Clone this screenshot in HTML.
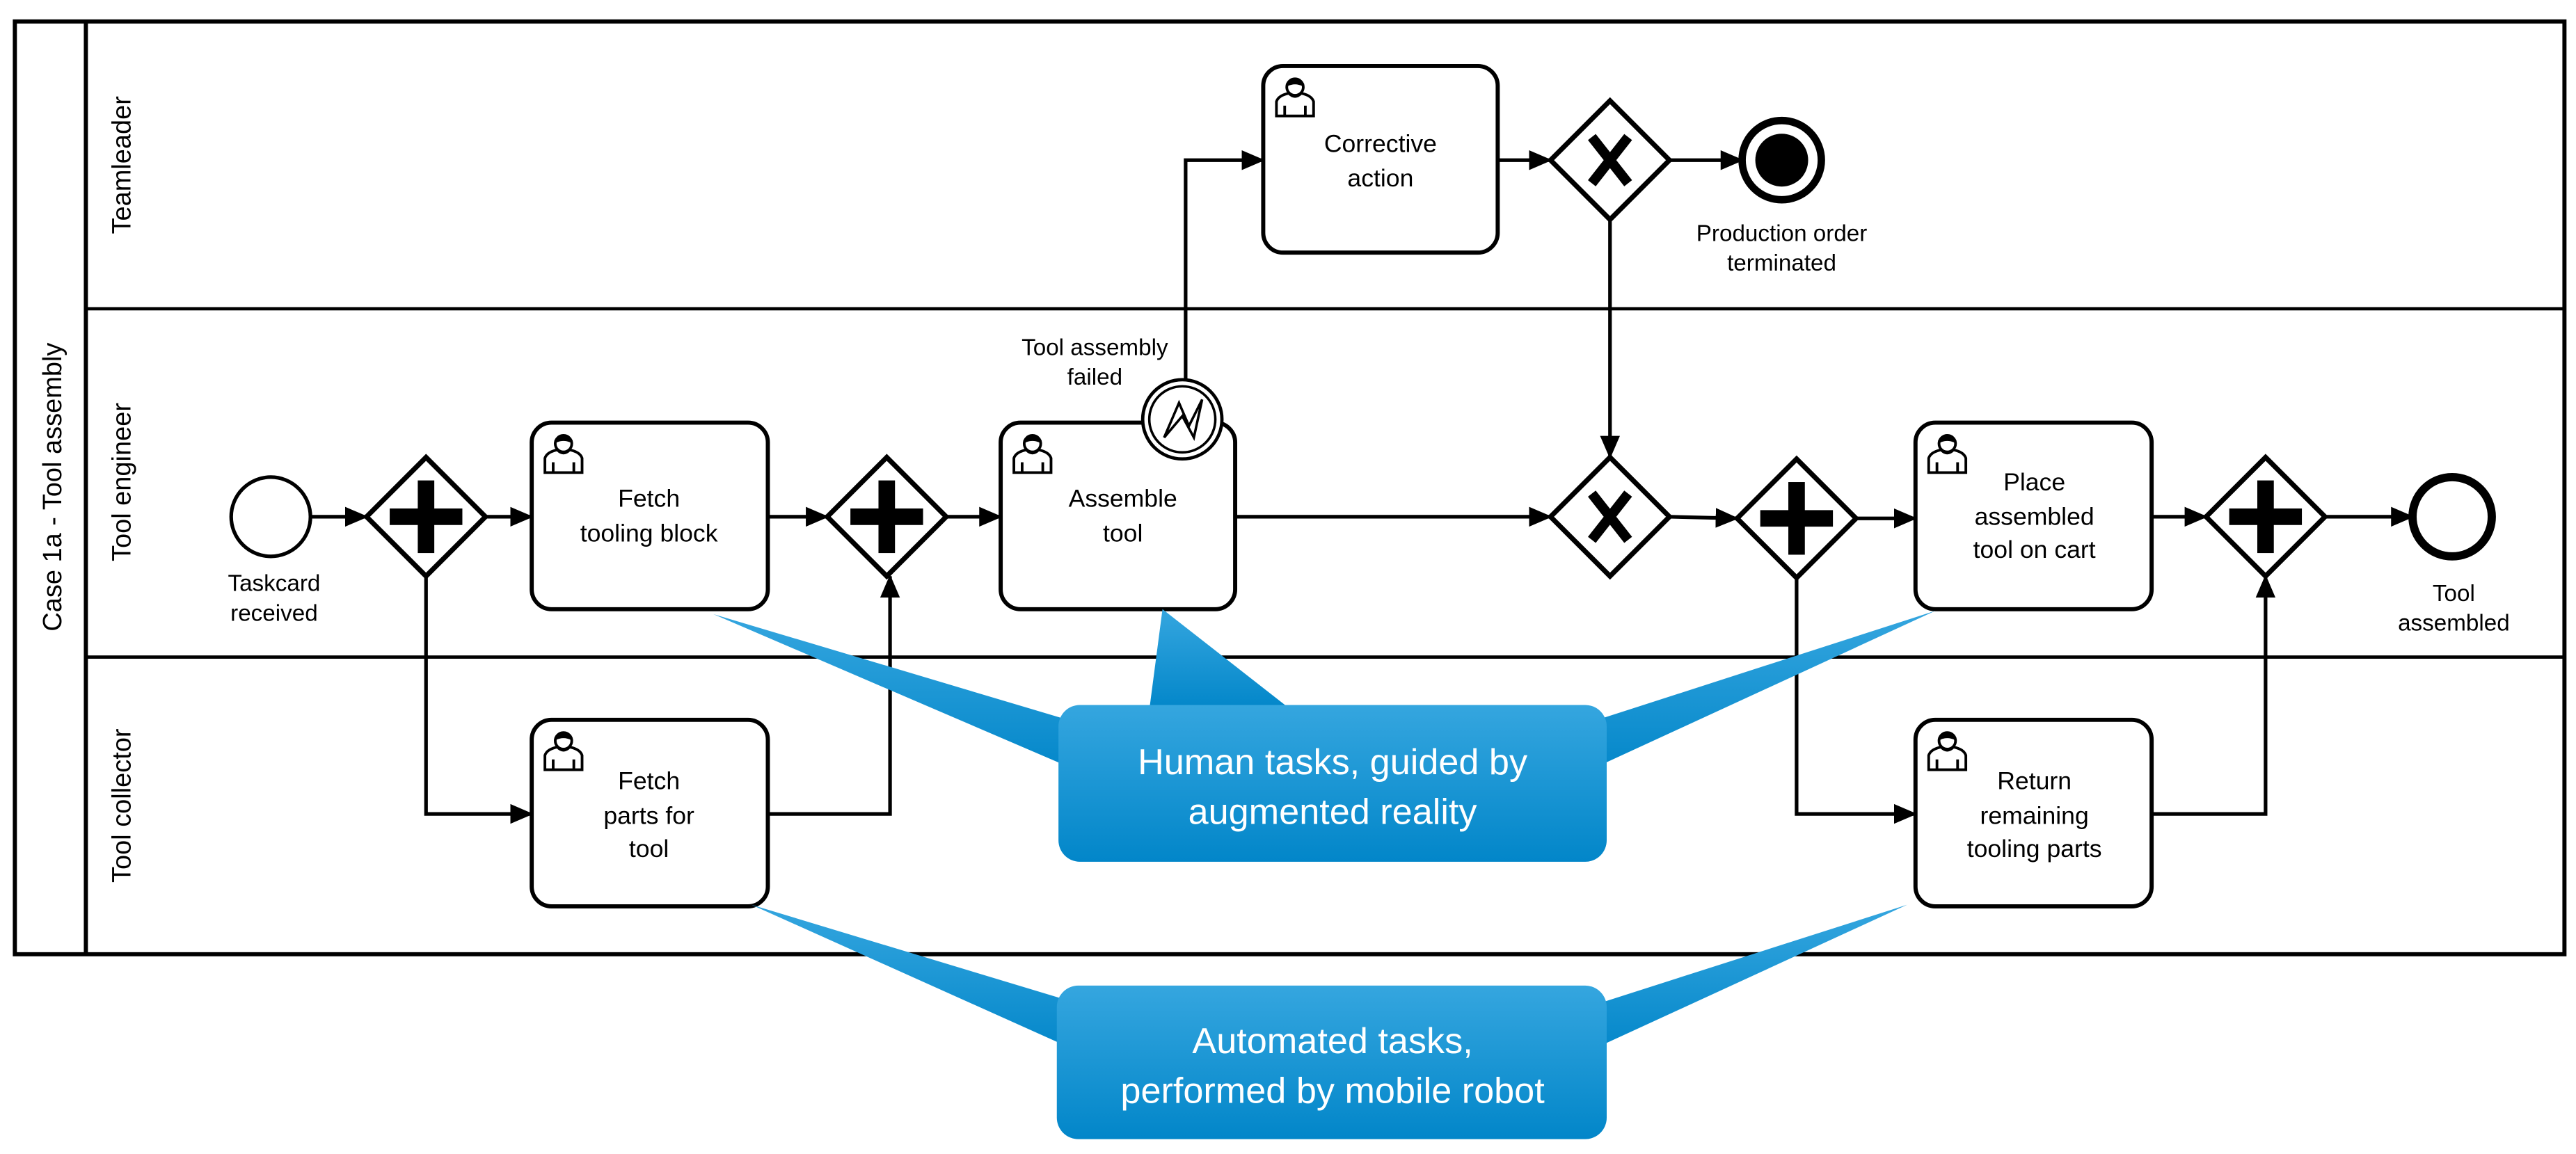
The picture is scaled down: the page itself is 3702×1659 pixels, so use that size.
<!DOCTYPE html>
<html><head><meta charset="utf-8"><style>
html,body{margin:0;padding:0;background:#fff;}
svg{display:block;}
text{font-family:"Liberation Sans",sans-serif;}
</style></head><body>
<svg width="3702" height="1659" viewBox="0 0 1560 699" preserveAspectRatio="none" xmlns="http://www.w3.org/2000/svg">
<defs>
<marker id="ar" markerWidth="14" markerHeight="14" refX="13" refY="7" orient="auto" markerUnits="userSpaceOnUse"><path d="M0,1 L14,7 L0,13 Z" fill="#000"/></marker>
<linearGradient id="bg" x1="0" y1="0" x2="0" y2="1"><stop offset="0" stop-color="#35a6df"/><stop offset="1" stop-color="#0286c9"/></linearGradient>
<g id="user" fill="none" stroke="#000" stroke-width="1.3">
<path d="M0,17 L0,10 Q1,7 6,6 Q9,9 12,6 Q17,7 18,10 L18,17 Z" fill="#fff"/>
<circle cx="9" cy="3" r="4" fill="#fff"/>
<path d="M5,2 Q9,-3 13,2 Q9,0 5,2Z" fill="#000"/>
<line x1="4" y1="12" x2="4" y2="17"/><line x1="14" y1="12" x2="14" y2="17"/>
</g>
<g id="plus"><polygon points="0,-36 36,0 0,36 -36,0" fill="#fff" stroke="#000" stroke-width="3"/><rect x="-22" y="-5" width="44" height="10" fill="#000"/><rect x="-5" y="-22" width="10" height="44" fill="#000"/></g>
<g id="xor"><polygon points="0,-36 36,0 0,36 -36,0" fill="#fff" stroke="#000" stroke-width="3"/><path d="M-11,-14 L11,14 M11,-14 L-11,14" stroke="#000" stroke-width="6"/></g>
</defs>

<rect x="9" y="13" width="1544" height="565" fill="none" stroke="#000" stroke-width="2.5"/>
<line x1="52" y1="13" x2="52" y2="578" stroke="#000" stroke-width="2.5"/>
<line x1="52" y1="187" x2="1553" y2="187" stroke="#000" stroke-width="2"/>
<line x1="52" y1="398" x2="1553" y2="398" stroke="#000" stroke-width="2"/>
<text transform="translate(37,295) rotate(-90)" text-anchor="middle" font-size="16">Case 1a - Tool assembly</text>
<text transform="translate(79,100) rotate(-90)" text-anchor="middle" font-size="16">Teamleader</text>
<text transform="translate(79,292) rotate(-90)" text-anchor="middle" font-size="16">Tool engineer</text>
<text transform="translate(79,488) rotate(-90)" text-anchor="middle" font-size="16">Tool collector</text>

<g stroke="#000" stroke-width="2.2" fill="none">
<line x1="188" y1="313" x2="222" y2="313" marker-end="url(#ar)"/>
<line x1="294" y1="313" x2="322" y2="313" marker-end="url(#ar)"/>
<line x1="465" y1="313" x2="501" y2="313" marker-end="url(#ar)"/>
<line x1="573" y1="313" x2="606" y2="313" marker-end="url(#ar)"/>
<polyline points="258,349 258,493 322,493" marker-end="url(#ar)"/>
<polyline points="465,493 539,493 539,349" marker-end="url(#ar)"/>
<polyline points="718,230 718,97 765,97" marker-end="url(#ar)"/>
<line x1="907" y1="97" x2="939" y2="97" marker-end="url(#ar)"/>
<line x1="1011" y1="97" x2="1055" y2="97" marker-end="url(#ar)"/>
<line x1="975" y1="133" x2="975" y2="277" marker-end="url(#ar)"/>
<line x1="748" y1="313" x2="939" y2="313" marker-end="url(#ar)"/>
<line x1="1011" y1="313" x2="1052" y2="314" marker-end="url(#ar)"/>
<line x1="1124" y1="314" x2="1160" y2="314" marker-end="url(#ar)"/>
<line x1="1303" y1="313" x2="1336" y2="313" marker-end="url(#ar)"/>
<line x1="1408" y1="313" x2="1461" y2="313" marker-end="url(#ar)"/>
<polyline points="1088,349 1088,493 1160,493" marker-end="url(#ar)"/>
<polyline points="1303,493 1372,493 1372,349" marker-end="url(#ar)"/>
</g>

<circle cx="164" cy="313" r="24" fill="#fff" stroke="#000" stroke-width="2.2"/>
<text x="166" y="358" text-anchor="middle" font-size="14">Taskcard</text>
<text x="166" y="376" text-anchor="middle" font-size="14">received</text>
<circle cx="1079" cy="97" r="24" fill="#fff" stroke="#000" stroke-width="4.5"/>
<circle cx="1079" cy="97" r="16" fill="#000"/>
<text x="1079" y="146" text-anchor="middle" font-size="14">Production order</text>
<text x="1079" y="164" text-anchor="middle" font-size="14">terminated</text>
<circle cx="1485" cy="313" r="24" fill="#fff" stroke="#000" stroke-width="5"/>
<text x="1486" y="364" text-anchor="middle" font-size="14">Tool</text>
<text x="1486" y="382" text-anchor="middle" font-size="14">assembled</text>

<use href="#plus" x="258" y="313"/>
<use href="#plus" x="537" y="313"/>
<use href="#plus" x="1088" y="314"/>
<use href="#plus" x="1372" y="313"/>
<use href="#xor" x="975" y="97"/>
<use href="#xor" x="975" y="313"/>

<g fill="#fff" stroke="#000" stroke-width="2.5">
<rect x="322" y="256" width="143" height="113" rx="12"/>
<rect x="606" y="256" width="142" height="113" rx="12"/>
<rect x="765" y="40" width="142" height="113" rx="12"/>
<rect x="1160" y="256" width="143" height="113" rx="12"/>
<rect x="322" y="436" width="143" height="113" rx="12"/>
<rect x="1160" y="436" width="143" height="113" rx="12"/>
</g>
<use href="#user" transform="translate(330,265) scale(1.25)"/>
<use href="#user" transform="translate(614,265) scale(1.25)"/>
<use href="#user" transform="translate(773,49) scale(1.25)"/>
<use href="#user" transform="translate(1168,265) scale(1.25)"/>
<use href="#user" transform="translate(330,445) scale(1.25)"/>
<use href="#user" transform="translate(1168,445) scale(1.25)"/>
<g font-size="15" text-anchor="middle">
<text x="393" y="307">Fetch</text><text x="393" y="328">tooling block</text>
<text x="680" y="307">Assemble</text><text x="680" y="328">tool</text>
<text x="836" y="92">Corrective</text><text x="836" y="113">action</text>
<text x="1232" y="297">Place</text><text x="1232" y="318">assembled</text><text x="1232" y="338">tool on cart</text>
<text x="393" y="478">Fetch</text><text x="393" y="499">parts for</text><text x="393" y="519">tool</text>
<text x="1232" y="478">Return</text><text x="1232" y="499">remaining</text><text x="1232" y="519">tooling parts</text>
</g>

<circle cx="716" cy="254" r="24" fill="#fff" stroke="#000" stroke-width="2"/>
<circle cx="716" cy="254" r="20" fill="none" stroke="#000" stroke-width="1.5"/>
<path d="M705,265 L714,244 L720,258 L728,242 L723,265 L716,252 Z" fill="none" stroke="#000" stroke-width="1.5"/>
<text x="663" y="215" text-anchor="middle" font-size="14">Tool assembly</text>
<text x="663" y="233" text-anchor="middle" font-size="14">failed</text>

<g fill="url(#bg)">
<polygon points="432,372 660,440 660,470"/>
<polygon points="704,369 696,430 782,430"/>
<polygon points="1172,370 955,440 955,470"/>
<rect x="641" y="427" width="332" height="95" rx="13"/>
<polygon points="455,548 660,610 660,640"/>
<polygon points="1155,548 955,612 955,640"/>
<rect x="640" y="597" width="333" height="93" rx="13"/>
</g>
<g fill="#fff" font-size="22" text-anchor="middle">
<text x="807" y="469">Human tasks, guided by</text>
<text x="807" y="499">augmented reality</text>
<text x="807" y="638">Automated tasks,</text>
<text x="807" y="668">performed by mobile robot</text>
</g>
</svg>
</body></html>
